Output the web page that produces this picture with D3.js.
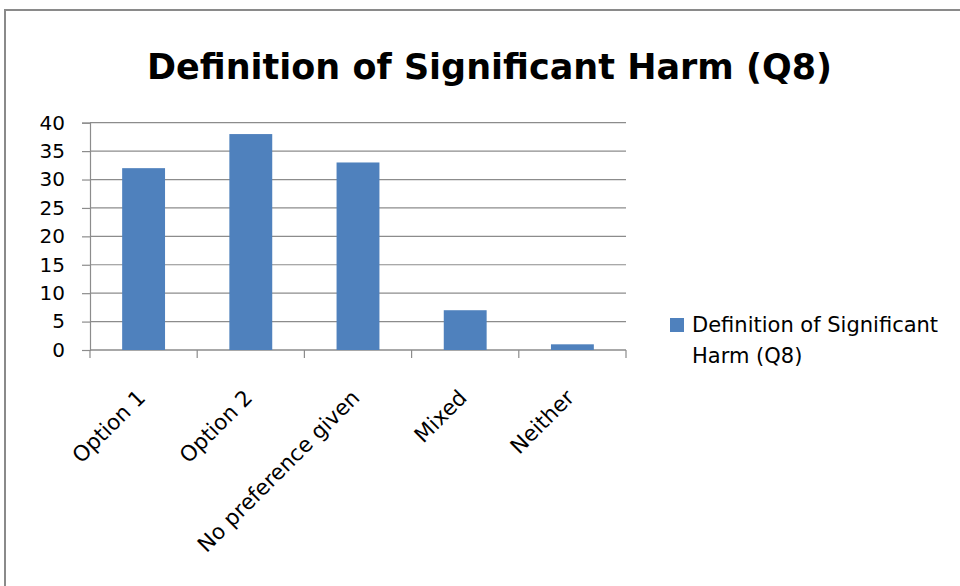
<!DOCTYPE html>
<html>
<head>
<meta charset="utf-8">
<script src="https://cdn.jsdelivr.net/npm/d3@7"></script>
<style>
  body { margin: 0; background: #fff; }
  svg { display: block; }
</style>
</head>
<body>
<div id="chart"></div>
<script>
// data
var categories = ["Option 1", "Option 2", "No preference given", "Mixed", "Neither"];
var values = [32, 38, 33, 7, 1];
var yTicks = [0, 5, 10, 15, 20, 25, 30, 35, 40];
var chartTitle = "Definition of Significant Harm (Q8)";
var legendLines = ["Definition of Significant", "Harm (Q8)"];

var W = 960, H = 586;
var margin = {top: 122.7, left: 90, right: 334, bottom: 236};
var width = W - margin.left - margin.right,
    height = H - margin.top - margin.bottom;

var svg = d3.select("#chart")
  .append("svg")
    .attr("width", W)
    .attr("height", H);

// outer chart border (runs off the right and bottom edge)
svg.append("rect")
  .attr("x", 5).attr("y", 10)
  .attr("width", 1000).attr("height", 1000)
  .attr("fill", "none")
  .attr("stroke", "#8a8a8a")
  .attr("stroke-width", 2);

// title
svg.append("text")
  .attr("x", 147).attr("y", 79)
  .attr("font-family", "DejaVu Sans")
  .attr("font-weight", "bold")
  .attr("font-size", "36px")
  .attr("textLength", 685)
  .attr("lengthAdjust", "spacingAndGlyphs")
  .attr("fill", "#000")
  .text(chartTitle);

var g = svg.append("g")
  .attr("transform", "translate(" + margin.left + "," + margin.top + ")");

var x = d3.scaleBand()
  .domain(categories)
  .range([0, width])
  .paddingInner(0.6)
  .paddingOuter(0.3);

var y = d3.scaleLinear()
  .domain([0, 40])
  .range([height, 0]);

// gridlines
g.selectAll(".grid")
  .data(yTicks)
  .enter().append("line")
    .attr("x1", 0).attr("x2", width)
    .attr("y1", function(d) { return y(d); })
    .attr("y2", function(d) { return y(d); })
    .attr("stroke", "#8c8c8c")
    .attr("stroke-width", 1.2);

// y axis
var yAxis = g.append("g")
  .call(d3.axisLeft(y).tickValues(yTicks).tickSize(8).tickPadding(17));
yAxis.select(".domain").attr("stroke", "#8c8c8c").attr("stroke-width", 1.2);
yAxis.selectAll(".tick line").attr("stroke", "#8c8c8c").attr("stroke-width", 1.2);
yAxis.selectAll(".tick text")
  .attr("font-family", "DejaVu Sans")
  .attr("font-size", "20px")
  .attr("fill", "#000");

// x axis: ticks sit between the categories
var step = x.step();
var boundaries = d3.range(categories.length + 1).map(function(i) { return i * step; });
var xAxis = g.append("g")
  .attr("transform", "translate(0," + height + ")");
xAxis.append("line")
  .attr("x1", 0).attr("x2", width)
  .attr("stroke", "#8c8c8c").attr("stroke-width", 1.2);
xAxis.selectAll(".xtick")
  .data(boundaries)
  .enter().append("line")
    .attr("x1", function(d) { return d; })
    .attr("x2", function(d) { return d; })
    .attr("y1", 0).attr("y2", 8)
    .attr("stroke", "#8c8c8c").attr("stroke-width", 1.2);

xAxis.selectAll(".xlabel")
  .data(categories)
  .enter().append("text")
    .attr("font-family", "DejaVu Sans")
    .attr("font-size", "21.5px")
    .attr("text-anchor", "end")
    .attr("fill", "#000")
    .attr("transform", function(d) {
      return "translate(" + (x(d) + x.bandwidth() / 2 + 3) + ",49) rotate(-45)";
    })
    .text(function(d) { return d; });

// bars
g.selectAll(".bar")
  .data(values)
  .enter().append("rect")
    .attr("x", function(d, i) { return x(categories[i]); })
    .attr("y", function(d) { return y(d); })
    .attr("width", x.bandwidth())
    .attr("height", function(d) { return height - y(d); })
    .attr("fill", "#4f81bd");

// legend
var legend = svg.append("g").attr("transform", "translate(670,318)");
legend.append("rect")
  .attr("width", 14).attr("height", 14)
  .attr("fill", "#4f81bd");
legend.selectAll("text")
  .data(legendLines)
  .enter().append("text")
    .attr("x", 22)
    .attr("y", function(d, i) { return 14 + i * 31; })
    .attr("font-family", "DejaVu Sans")
    .attr("font-size", "21px")
    .attr("fill", "#000")
    .text(function(d) { return d; });
</script>
</body>
</html>
